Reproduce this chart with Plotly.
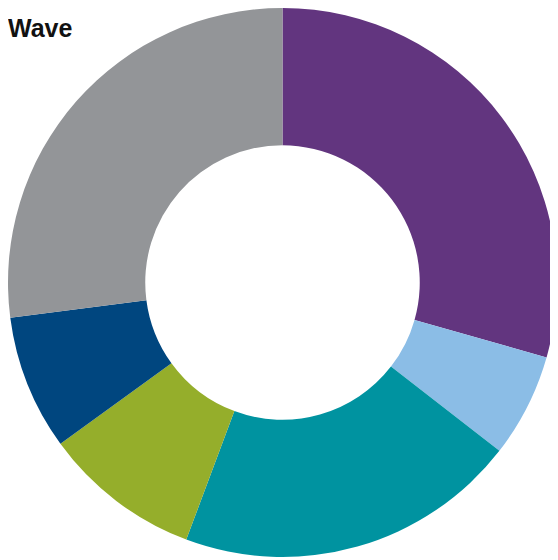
import plotly.graph_objects as go

labels = ["Purple", "Light blue", "Teal", "Green", "Dark blue", "Gray"]
values = [29.4, 6.1, 20.2, 9.3, 7.95, 27.05]
colors = ["#62357f", "#8bbde6", "#0093a0", "#95ae2b", "#00467f", "#939598"]

fig = go.Figure(go.Pie(
    labels=labels,
    values=values,
    hole=0.5,
    sort=False,
    direction="clockwise",
    rotation=0,
    marker=dict(colors=colors, line=dict(width=0)),
    textinfo="none",
    hoverinfo="label+percent",
    showlegend=False,
))

fig.update_layout(
    width=558, height=560,
    margin=dict(l=0, r=9, t=0, b=11, pad=0),
    paper_bgcolor="white",
    plot_bgcolor="white",
    title=dict(text="<b>Wave</b>", x=0, xanchor="left", y=1 - 20 / 560, yanchor="middle",
               pad=dict(l=0, r=0, t=0, b=0),
               font=dict(family="Liberation Sans, Arial", size=25, color="#111111")),
)

fig.write_html("out.html")
